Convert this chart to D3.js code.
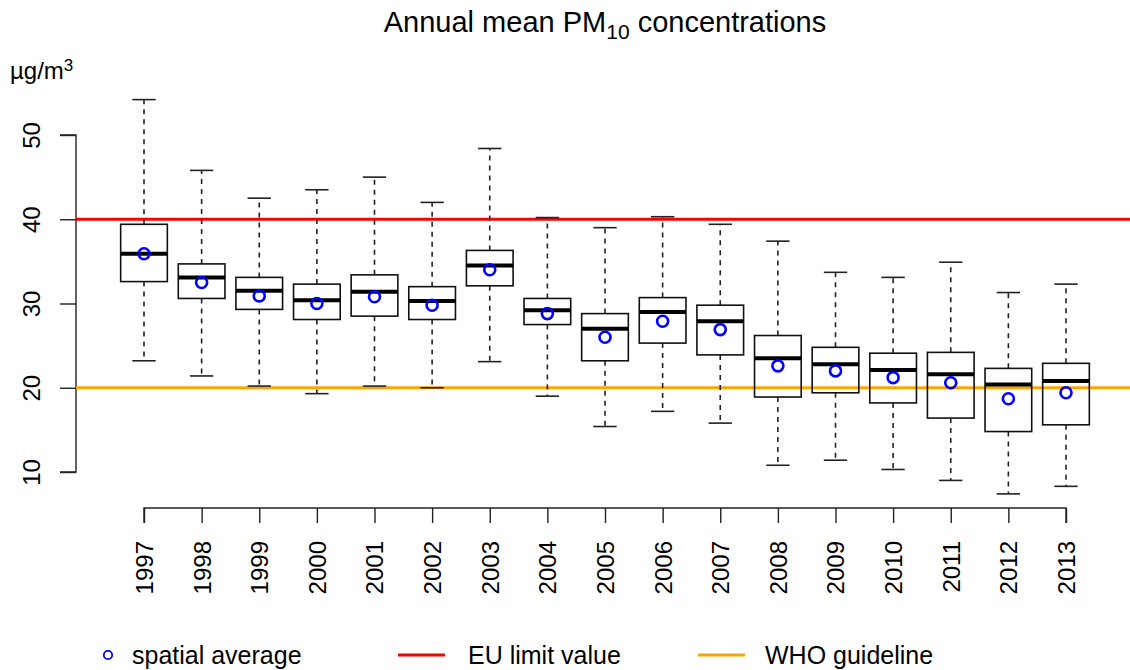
<!DOCTYPE html>
<html>
<head>
<meta charset="utf-8">
<script src="https://cdn.jsdelivr.net/npm/d3@7"></script>
<style>
  body { margin: 0; background: #fff; }
  text { font-family: "Liberation Sans", Arial, sans-serif; fill: #000; }
</style>
</head>
<body>
<div id="chart-area"></div>
<script>
/*
*    PM10 annual mean boxplot
*/

// Data
var years = ["1997","1998","1999","2000","2001","2002","2003","2004","2005",
    "2006","2007","2008","2009","2010","2011","2012","2013"];
var whiskerLow = [23.2, 21.4, 20.2, 19.3, 20.2, 20.0, 23.1, 19.0, 15.4,
    17.2, 15.8, 10.8, 11.4, 10.3, 9.0, 7.4, 8.3];
var q1 = [32.6, 30.6, 29.3, 28.1, 28.5, 28.1, 32.1, 27.5, 23.2,
    25.3, 23.9, 18.9, 19.4, 18.2, 16.4, 14.8, 15.6];
var median = [35.9, 33.1, 31.5, 30.4, 31.4, 30.3, 34.5, 29.2, 27.0,
    29.0, 27.9, 23.5, 22.8, 22.1, 21.6, 20.4, 20.8];
var q3 = [39.4, 34.7, 33.1, 32.3, 33.4, 32.0, 36.3, 30.6, 28.8,
    30.7, 29.8, 26.2, 24.8, 24.1, 24.2, 22.3, 22.9];
var whiskerHigh = [54.2, 45.8, 42.5, 43.5, 45.0, 42.0, 48.4, 40.2, 39.0,
    40.3, 39.4, 37.4, 33.7, 33.1, 34.9, 31.3, 32.3];
var spatialMean = [35.9, 32.5, 30.9, 30.0, 30.8, 29.8, 34.0, 28.8, 26.0,
    27.9, 26.9, 22.6, 22.0, 21.2, 20.6, 18.7, 19.4];
var yTicks = [10, 20, 30, 40, 50];
var euLimit = 40;
var whoGuide = 20;

var width = 1130, height = 670;

var svg = d3.select("#chart-area").append("svg")
    .attr("width", width)
    .attr("height", height);

// Scales
var x = d3.scalePoint().domain(years).range([144, 1066]);
var y = d3.scaleLinear().domain([10, 50]).range([472, 135]);
var boxW = x.step() * 0.81;

var data = years.map(function(yr, i) {
    return { year: yr, lo: whiskerLow[i], q1: q1[i], med: median[i],
        q3: q3[i], hi: whiskerHigh[i], mean: spatialMean[i] };
});

// Title
var title = svg.append("text")
    .attr("x", 605)
    .attr("y", 32)
    .attr("text-anchor", "middle")
    .style("font-size", "29px");
title.append("tspan").text("Annual mean PM");
title.append("tspan").attr("dy", 7).style("font-size", "21px").text("10");
title.append("tspan").attr("dy", -7).text(" concentrations");

// Unit label
var unit = svg.append("text")
    .attr("x", 10)
    .attr("y", 79)
    .style("font-size", "24px");
unit.append("tspan").text("µg/m");
unit.append("tspan").attr("dy", -8).style("font-size", "17px").text("3");

// Axes
var yAxis = svg.append("g")
    .attr("transform", "translate(76,0)")
    .call(d3.axisLeft(y).tickValues(yTicks).tickSize(16).tickPadding(0).tickFormat(d3.format("d")));
yAxis.select(".domain").attr("stroke", "#222").attr("stroke-width", 1.4)
    .attr("d", "M-16," + y(10) + "H0V" + y(50) + "H-16");
yAxis.selectAll(".tick line").attr("stroke", "#222").attr("stroke-width", 1.4);
yAxis.selectAll(".tick text")
    .attr("x", 0).attr("y", 0).attr("dy", null)
    .attr("transform", "translate(-36,0) rotate(-90)")
    .attr("text-anchor", "middle")
    .style("font-size", "24px")
    .style("font-family", "Liberation Sans, Arial, sans-serif");

var xAxis = svg.append("g")
    .attr("transform", "translate(0,508)")
    .call(d3.axisBottom(x).tickSize(15).tickPadding(0));
xAxis.select(".domain").attr("stroke", "#222").attr("stroke-width", 1.4)
    .attr("d", "M" + x(years[0]) + ",15V0H" + x(years[years.length - 1]) + "V15");
xAxis.selectAll(".tick line").attr("stroke", "#222").attr("stroke-width", 1.4);
xAxis.selectAll(".tick text")
    .attr("x", 0).attr("y", 0).attr("dy", "0.35em")
    .attr("transform", "translate(0,33) rotate(-90)")
    .attr("text-anchor", "end")
    .style("font-size", "24px")
    .style("font-family", "Liberation Sans, Arial, sans-serif");

// Reference lines
svg.append("line")
    .attr("x1", 76).attr("x2", width)
    .attr("y1", y(euLimit)).attr("y2", y(euLimit))
    .attr("stroke", "#ff0000").attr("stroke-width", 3);
svg.append("line")
    .attr("x1", 76).attr("x2", width)
    .attr("y1", y(whoGuide)).attr("y2", y(whoGuide))
    .attr("stroke", "#ffa500").attr("stroke-width", 3);

// Boxes
var box = svg.selectAll(".box").data(data).enter().append("g")
    .attr("class", "box")
    .attr("transform", function(d) { return "translate(" + x(d.year) + ",0)"; });

// whiskers (dashed)
box.append("line")
    .attr("y1", function(d) { return y(d.q3); })
    .attr("y2", function(d) { return y(d.hi); })
    .attr("stroke", "#222").attr("stroke-width", 1.6).attr("stroke-dasharray", "5,5");
box.append("line")
    .attr("y1", function(d) { return y(d.q1); })
    .attr("y2", function(d) { return y(d.lo); })
    .attr("stroke", "#222").attr("stroke-width", 1.6).attr("stroke-dasharray", "5,5");

// staples
box.append("line")
    .attr("x1", -boxW / 4).attr("x2", boxW / 4)
    .attr("y1", function(d) { return y(d.hi); })
    .attr("y2", function(d) { return y(d.hi); })
    .attr("stroke", "#222").attr("stroke-width", 1.6);
box.append("line")
    .attr("x1", -boxW / 4).attr("x2", boxW / 4)
    .attr("y1", function(d) { return y(d.lo); })
    .attr("y2", function(d) { return y(d.lo); })
    .attr("stroke", "#222").attr("stroke-width", 1.6);

box.append("rect")
    .attr("x", -boxW / 2)
    .attr("width", boxW)
    .attr("y", function(d) { return y(d.q3); })
    .attr("height", function(d) { return y(d.q1) - y(d.q3); })
    .attr("fill", "none")
    .attr("stroke", "#111").attr("stroke-width", 1.6);

box.append("line")
    .attr("x1", -boxW / 2).attr("x2", boxW / 2)
    .attr("y1", function(d) { return y(d.med); })
    .attr("y2", function(d) { return y(d.med); })
    .attr("stroke", "#000").attr("stroke-width", 4);

// spatial average
box.append("circle")
    .attr("cy", function(d) { return y(d.mean); })
    .attr("r", 5.5)
    .attr("fill", "none")
    .attr("stroke", "#0000ff").attr("stroke-width", 2.6);

// Legend
var legend = svg.append("g").attr("transform", "translate(0,655)");
legend.append("circle")
    .attr("cx", 108).attr("cy", 0).attr("r", 4.2)
    .attr("fill", "none").attr("stroke", "#0000ff").attr("stroke-width", 1.8);
legend.append("text").attr("x", 132).attr("dy", "0.35em")
    .style("font-size", "25px").text("spatial average");
legend.append("line")
    .attr("x1", 398).attr("x2", 445)
    .attr("stroke", "#ff0000").attr("stroke-width", 3);
legend.append("text").attr("x", 468).attr("dy", "0.35em")
    .style("font-size", "25px").text("EU limit value");
legend.append("line")
    .attr("x1", 698).attr("x2", 745)
    .attr("stroke", "#ffa500").attr("stroke-width", 3);
legend.append("text").attr("x", 765).attr("dy", "0.35em")
    .style("font-size", "25px").text("WHO guideline");
</script>
</body>
</html>
